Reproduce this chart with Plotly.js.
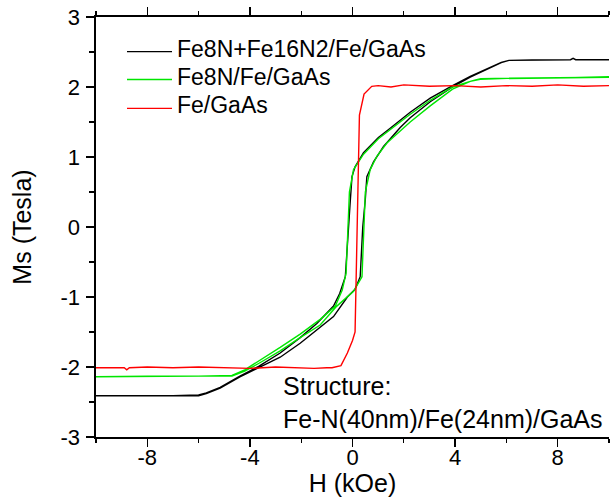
<!DOCTYPE html>
<html>
<head>
<meta charset="utf-8">
<script src="https://cdn.plot.ly/plotly-3.0.1.min.js"></script>
<style>html,body{margin:0;padding:0;background:#fff;}#chart{width:610px;height:504px;}</style>
</head>
<body>
<div id="chart"></div>
<script>
// Series names and colours
const seriesNames = ["Fe8N+Fe16N2/Fe/GaAs", "Fe8N/Fe/GaAs", "Fe/GaAs"];
const seriesColors = ["#000000", "#00e600", "#ff0000"];

// Fe8N+Fe16N2/Fe/GaAs loop: descending branch then ascending branch
const blackDownH = [10, 8.7, 8.6, 8.5, 7, 6.1, 5.8, 5.37, 4.59, 3.9, 3.03, 2.25, 1.86, 1.47, 1.01, 0.43, 0.1, -0.02, -0.1, -0.2, -0.28, -0.5, -0.74, -1.39, -2.04, -2.82, -3.66, -4.39, -5.16, -5.7, -6.0, -7, -9, -10];
const blackDownM = [2.39, 2.39, 2.41, 2.39, 2.385, 2.38, 2.35, 2.28, 2.15, 2.02, 1.84, 1.64, 1.52, 1.41, 1.28, 1.06, 0.86, 0.72, 0.3, -0.3, -0.71, -0.95, -1.13, -1.38, -1.58, -1.8, -1.99, -2.13, -2.29, -2.37, -2.40, -2.41, -2.41, -2.41];
const blackUpH = [-10, -8, -6.0, -5.7, -5.16, -4.39, -3.66, -2.82, -2.04, -1.39, -0.74, -0.2, 0.1, 0.3, 0.4, 0.5, 0.56, 0.82, 1.21, 1.86, 2.25, 3.03, 3.9, 4.59, 5.37, 5.8, 6.1, 7, 8.5, 8.6, 8.7, 10];
const blackUpM = [-2.41, -2.41, -2.41, -2.38, -2.30, -2.14, -2.01, -1.86, -1.66, -1.47, -1.28, -1.0, -0.89, -0.71, 0.0, 0.4, 0.72, 0.93, 1.15, 1.42, 1.56, 1.79, 2.0, 2.14, 2.27, 2.35, 2.38, 2.385, 2.39, 2.41, 2.39, 2.39];

// Fe8N/Fe/GaAs loop
const greenDownH = [10, 7, 5, 4.8, 4.59, 3.9, 3.03, 2.25, 1.47, 1.01, 0.43, 0.04, -0.12, -0.18, -0.25, -0.4, -0.67, -1.26, -2.04, -2.82, -3.66, -4.2, -4.7, -6, -8, -10];
const greenDownM = [2.14, 2.13, 2.12, 2.1, 2.08, 2.0, 1.81, 1.61, 1.39, 1.26, 1.04, 0.82, 0.5, 0.0, -0.66, -0.9, -1.13, -1.32, -1.53, -1.72, -1.92, -2.04, -2.12, -2.13, -2.13, -2.14];
const greenUpH = [-10, -8, -6, -4.7, -4.2, -3.66, -2.82, -2.04, -1.26, -0.61, 0.04, 0.37, 0.43, 0.5, 0.69, 0.95, 1.34, 1.86, 2.25, 3.03, 3.9, 4.59, 4.98, 6, 8, 10];
const greenUpM = [-2.14, -2.13, -2.13, -2.13, -2.06, -1.95, -1.77, -1.58, -1.40, -1.13, -0.92, -0.71, 0.0, 0.5, 0.82, 1.01, 1.2, 1.37, 1.5, 1.73, 1.97, 2.08, 2.11, 2.12, 2.13, 2.14];

// Fe/GaAs loop (nearly closed)
const redH = [-10, -9.5, -8.9, -8.8, -8.7, -8, -7, -6, -5, -4, -3, -2, -1.5, -1, -0.8, -0.45, -0.2, 0.0, 0.1, 0.27, 0.45, 0.75, 1, 1.5, 2, 3, 4, 5, 6, 7, 8, 9, 10];
const redM = [-2.01, -2.01, -2.01, -2.04, -2.01, -2.0, -2.01, -2.0, -2.01, -2.02, -2.0, -2.01, -2.02, -2.01, -2.01, -1.98, -1.8, -1.62, -1.5, 1.6, 1.9, 2.01, 2.02, 2.0, 2.03, 2.01, 2.02, 2.0, 2.02, 2.01, 2.03, 2.01, 2.02];

// Tick labels (plain hyphen minus as in the original)
const xTickVals = [-8, -4, 0, 4, 8];
const xTickText = ["-8", "-4", "0", "4", "8"];
const yTickVals = [-3, -2, -1, 0, 1, 2, 3];
const yTickText = ["-3", "-2", "-1", "0", "1", "2", "3"];

// Axis labels / annotation text
const xTitle = "H (kOe)";
const yTitle = "Ms (Tesla)";
const noteText = "Structure:<br>Fe-N(40nm)/Fe(24nm)/GaAs";

const FONT = "Liberation Sans, Arial, sans-serif";
const W = 610, H = 504, ML = 96, MR = 1, MT = 17, MB = 67;
const PW = W - ML - MR, PH = H - MT - MB;
const px2x = p => (p - ML) / PW;
const py2y = p => (H - MB - p) / PH;

const traces = [
  {x: blackDownH.concat(blackUpH), y: blackDownM.concat(blackUpM), name: seriesNames[0], mode: "lines", line: {color: seriesColors[0], width: 1.4}},
  {x: greenDownH.concat(greenUpH), y: greenDownM.concat(greenUpM), name: seriesNames[1], mode: "lines", line: {color: seriesColors[1], width: 1.4}},
  {x: redH, y: redM, name: seriesNames[2], mode: "lines", line: {color: seriesColors[2], width: 1.4}}
];

// Legend (drawn as keys + labels)
const legLineY = [51.7, 79.5, 108.3];
const shapes = [], annotations = [];
seriesNames.forEach((nm, i) => {
  shapes.push({type: "line", xref: "paper", yref: "paper", x0: px2x(127), x1: px2x(172), y0: py2y(legLineY[i]), y1: py2y(legLineY[i]), line: {color: seriesColors[i], width: 1.3}});
  annotations.push({xref: "paper", yref: "paper", x: px2x(174.5), y: py2y(legLineY[i] - 3), xanchor: "left", yanchor: "middle", showarrow: false, text: nm, font: {family: FONT, size: 23, color: "#000"}});
});
annotations.push({x: -2.8, y: -2.5, xref: "x", yref: "y", xanchor: "left", yanchor: "middle", align: "left", showarrow: false, text: noteText, font: {family: FONT, size: 25, color: "#000"}});

const layout = {
  width: W, height: H,
  margin: {l: ML, r: MR, t: MT, b: MB, pad: 0},
  paper_bgcolor: "#ffffff", plot_bgcolor: "#ffffff",
  font: {family: FONT, color: "#000", size: 22},
  showlegend: false,
  xaxis: {
    range: [-10, 10], tickmode: "array", tickvals: xTickVals, ticktext: xTickText, ticks: "outside", ticklen: 8, tickwidth: 1.3, tickcolor: "#000",
    minor: {dtick: 2, tick0: 0, ticks: "outside", ticklen: 4.5, tickwidth: 1.3, tickcolor: "#000"},
    showline: true, linecolor: "#000", linewidth: 1.6, mirror: "allticks", showgrid: false, zeroline: false,
    tickfont: {family: FONT, size: 22}, ticklabelstandoff: -8,
    title: {text: xTitle, font: {family: FONT, size: 25}, standoff: 0}
  },
  yaxis: {
    range: [-3, 3], tickmode: "array", tickvals: yTickVals, ticktext: yTickText, ticks: "outside", ticklen: 8, tickwidth: 1.3, tickcolor: "#000",
    minor: {dtick: 0.5, tick0: 0, ticks: "outside", ticklen: 5, tickwidth: 1.3, tickcolor: "#000"},
    showline: true, linecolor: "#000", linewidth: 1.6, mirror: false, showgrid: false, zeroline: false,
    tickfont: {family: FONT, size: 22}, ticklabelstandoff: 2,
    title: {text: yTitle, font: {family: FONT, size: 25}, standoff: 21}
  },
  shapes: shapes,
  annotations: annotations
};

Plotly.newPlot("chart", traces, layout, {displayModeBar: false, staticPlot: true}).then(gd => {
  const g = gd.querySelector(".g-xtitle");
  if (g) g.setAttribute("transform", "translate(0,5)");
});
</script>
</body>
</html>
